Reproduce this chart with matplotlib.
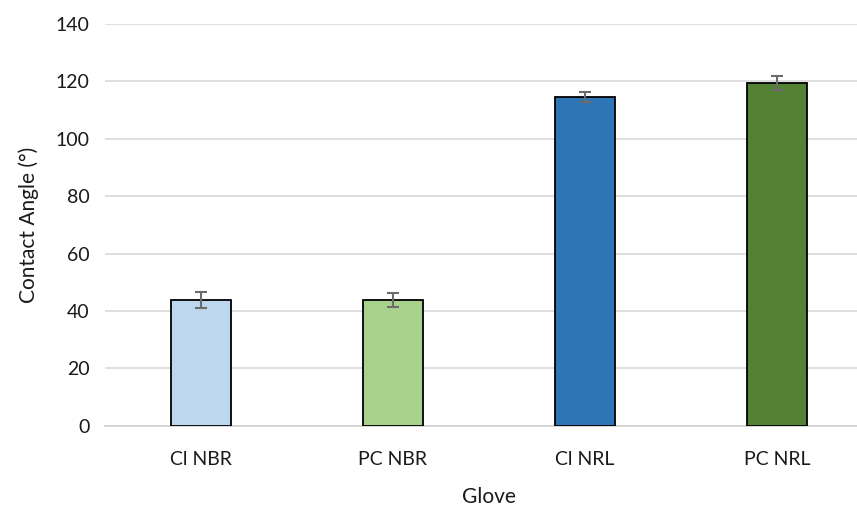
import matplotlib.pyplot as plt
import numpy as np

# values
gloves = ['Cl NBR', 'PC NBR', 'Cl NRL', 'PC NRL']
angle = [43.8, 43.9, 114.6, 119.4]
err = [2.8, 2.5, 1.7, 2.5]
colors = ['#BDD7EE', '#A9D18E', '#2E75B6', '#548235']

plt.rcParams['font.family'] = ['Lato', 'DejaVu Sans']

fig = plt.figure(figsize=(8.57, 5.09), dpi=100)
ax = fig.add_axes([105 / 857, 83.3 / 509, 768 / 857, 401.7 / 509])

x = np.arange(len(gloves))
ax.bar(x, angle, width=0.31, color=colors, edgecolor='black', linewidth=1.3, zorder=3)
ax.errorbar(x, angle, yerr=err, fmt='none', ecolor='#6b6b6b', elinewidth=1.5,
            capsize=4, capthick=1.5, zorder=4)

ax.set_xlim(-0.5, 3.5)
ax.set_ylim(0, 140)
ax.set_yticks(range(0, 141, 20))
ax.set_xticks(x)
ax.set_xticklabels(gloves)
ax.yaxis.grid(True, color='#D9D9D9', linewidth=1.2, zorder=0)

for s in ['top', 'right', 'left']:
    ax.spines[s].set_visible(False)
ax.spines['bottom'].set_color('#D0D0D0')
ax.spines['bottom'].set_linewidth(1.2)
ax.spines['bottom'].set_zorder(2)
ax.tick_params(axis='both', length=0, labelsize=14, colors='#1a1a1a')
ax.tick_params(axis='y', pad=11)
ax.tick_params(axis='x', pad=18)

ax.set_ylabel('Contact Angle (°)', fontsize=15, color='#1a1a1a', labelpad=12)
ax.set_xlabel('Glove', fontsize=15, color='#1a1a1a', labelpad=14)

fig.savefig('out.png', dpi=100)
